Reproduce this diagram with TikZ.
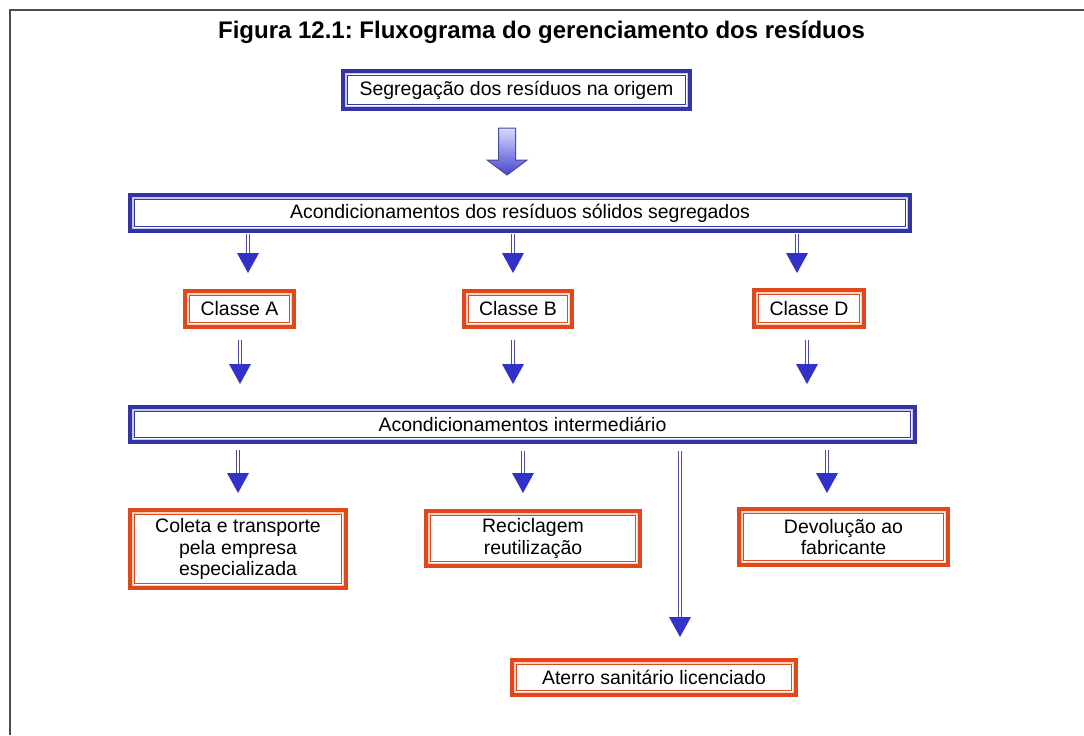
\documentclass[tikz,border=0pt]{standalone}
\usepackage{fontspec}
\setmainfont{Liberation Sans}
\usetikzlibrary{calc}
\frenchspacing
\newdimen\pxu \pxu=0.75pt
\definecolor{bluecol}{HTML}{3434A4}
\definecolor{blueinner}{HTML}{5A5AB0}
\definecolor{bluegap}{HTML}{C8C8EC}
\definecolor{orcol}{HTML}{E0481A}
\definecolor{orinner}{HTML}{E06836}
\definecolor{orgap}{HTML}{F6D0C0}
\definecolor{headcol}{HTML}{3232C8}
\definecolor{shaftcol}{HTML}{4A4AA0}
\newcommand\boxfont{\fontsize{14.6}{16.4}\selectfont}
\tikzset{
  dbox/.style 2 args={draw=#1, line width=3.5*\pxu, fill=white, inner sep=0pt,
    align=center, font=\boxfont,
    path picture={
      \draw[#2, line width=1.8*\pxu] ([shift={(2.6*\pxu,-2.6*\pxu)}]path picture bounding box.north west) rectangle ([shift={(-2.6*\pxu,2.6*\pxu)}]path picture bounding box.south east);
      \draw[#1, line width=1.1*\pxu] ([shift={(4.2*\pxu,-4.2*\pxu)}]path picture bounding box.north west) rectangle ([shift={(-4.2*\pxu,4.2*\pxu)}]path picture bounding box.south east);
    }},
  bluebox/.style={dbox={bluecol}{bluegap}},
  orbox/.style={dbox={orcol}{orgap}},
  shaft/.style={draw=shaftcol, line width=1.1*\pxu, double=white, double distance=2*\pxu},
}
\newcommand\flowarrow[2]{%
  \draw[shaft] (#1) -- ($(#2)+(0,-20)$);
  \fill[headcol] ($(#2)+(-11,-20)$) -- ($(#2)+(11,-20)$) -- (#2) -- cycle;
}
\begin{document}
\begin{tikzpicture}[x=0.75pt,y=-0.75pt]
\useasboundingbox (0,0) rectangle (1084,735);
% frame
\draw[gray!60!black, line width=2*\pxu] (10,735) -- (10,10) -- (1084,10);
% title
\node[font=\fontsize{18}{20}\selectfont\bfseries] (title) at (541.5,32) {Figura 12.1: Fluxograma do gerenciamento dos resíduos};
% boxes
\node[bluebox, minimum width=347*\pxu, minimum height=38*\pxu] (b1) at (516.5,90) {Segregação dos resíduos na origem};
\node[bluebox, minimum width=780*\pxu, minimum height=36*\pxu] (b2) at (520,213) {Acondicionamentos dos resíduos sólidos segregados};
\node[orbox, minimum width=109*\pxu, minimum height=36*\pxu] (cA) at (239.5,309) {Classe A};
\node[orbox, minimum width=108*\pxu, minimum height=36*\pxu] (cB) at (518,309) {Classe B};
\node[orbox, minimum width=110*\pxu, minimum height=37*\pxu] (cD) at (809,308.5) {Classe D};
\node[bluebox, minimum width=785*\pxu, minimum height=35*\pxu] (b3) at (522.5,424.5) {Acondicionamentos intermediário};
\node[orbox, minimum width=216*\pxu, minimum height=78*\pxu] (o1) at (238,549) {Coleta e transporte\\pela empresa\\especializada};
\node[orbox, minimum width=214*\pxu, minimum height=55*\pxu] (o2) at (533,538.5) {Reciclagem\\reutilização};
\node[orbox, minimum width=209*\pxu, minimum height=56*\pxu] (o3) at (843.5,537) {Devolução ao\\fabricante};
\node[orbox, minimum width=284*\pxu, minimum height=35*\pxu] (o4) at (654,677.5) {Aterro sanitário licenciado};
% big shaded arrow from b1 to b2
\coordinate (bigtop) at (507,128);
\coordinate (bigtip) at (507,175);
\shade[top color=white!85!blue, bottom color=headcol!90!white, draw=shaftcol, line width=1*\pxu]
  ($(bigtop)+(-8.5,0)$) -- ($(bigtop)+(8.5,0)$) -- ($(bigtip)+(8.5,-15)$) -- ($(bigtip)+(20,-15)$)
  -- (bigtip) -- ($(bigtip)+(-20,-15)$) -- ($(bigtip)+(-8.5,-15)$) -- cycle;
% arrows b2 -> classes
\coordinate (sA1) at (248,234); \coordinate (tA1) at (248,273);
\coordinate (sB1) at (513,234); \coordinate (tB1) at (513,273);
\coordinate (sD1) at (797,234); \coordinate (tD1) at (797,273);
\flowarrow{sA1}{tA1}
\flowarrow{sB1}{tB1}
\flowarrow{sD1}{tD1}
% classes -> b3
\coordinate (sA2) at (240,340); \coordinate (tA2) at (240,384);
\coordinate (sB2) at (513,340); \coordinate (tB2) at (513,384);
\coordinate (sD2) at (807,340); \coordinate (tD2) at (807,384);
\flowarrow{sA2}{tA2}
\flowarrow{sB2}{tB2}
\flowarrow{sD2}{tD2}
% b3 -> destinations
\coordinate (sA3) at (238,450); \coordinate (tA3) at (238,493);
\coordinate (sB3) at (523,451); \coordinate (tB3) at (523,493);
\coordinate (sD3) at (827,450); \coordinate (tD3) at (827,493);
\coordinate (sL3) at (680,451); \coordinate (tL3) at (680,637);
\flowarrow{sA3}{tA3}
\flowarrow{sB3}{tB3}
\flowarrow{sD3}{tD3}
\flowarrow{sL3}{tL3}
\end{tikzpicture}
\end{document}
